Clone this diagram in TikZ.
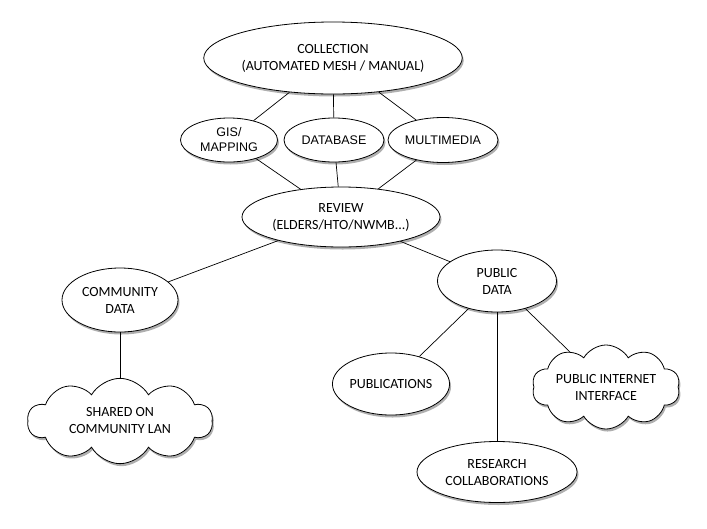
\documentclass[tikz,border=0pt]{standalone}
\usepackage{fontspec}
\setmainfont{Carlito}
\newfontfamily\arialfont{Liberation Sans}
\usetikzlibrary{shapes.geometric,shapes.symbols,shadows}
\definecolor{shadowgray}{HTML}{7A7A7A}

\begin{document}
\begin{tikzpicture}[x=1pt, y=-1pt,
  font=\fontsize{14}{17}\selectfont,
  every node/.style={align=center, inner sep=0pt, fill=white, draw=black, line width=0.8pt,
    drop shadow={shadow xshift=1.5pt, shadow yshift=-2.5pt, fill=shadowgray, opacity=0.6}},
  bubble/.style={ellipse},
  midbubble/.style={ellipse, font=\arialfont\fontsize{12.5}{15}\selectfont},
  puff/.style={cloud, cloud puffs=10, cloud puff arc=120, aspect=2.3},
  link/.style={line width=0.7pt}]
  \useasboundingbox (0,0) rectangle (707,528);
  \node[bubble, minimum width=253pt, minimum height=72pt] (collection) at (333,58) {COLLECTION\\(AUTOMATED MESH / MANUAL)};
  \node[midbubble, minimum width=97pt, minimum height=44pt] (gis) at (229,140) {GIS/\\MAPPING};
  \node[midbubble, minimum width=100pt, minimum height=44pt] (database) at (334,140) {DATABASE};
  \node[midbubble, minimum width=110pt, minimum height=45pt] (multimedia) at (443,140) {MULTIMEDIA};
  \node[bubble, minimum width=198pt, minimum height=60pt] (review) at (341,217) {REVIEW\\(ELDERS/HTO/NWMB...)};
  \node[bubble, minimum width=116pt, minimum height=64pt] (community) at (120,300) {COMMUNITY\\DATA};
  \node[puff, minimum width=185pt, minimum height=83pt] (lan) at (120,421) {SHARED ON\\COMMUNITY LAN};
  \node[bubble, minimum width=119pt, minimum height=62pt] (public) at (497,281) {PUBLIC\\DATA};
  \node[bubble, minimum width=117pt, minimum height=62pt] (publications) at (391,384) {PUBLICATIONS};
  \node[puff, minimum width=148pt, minimum height=65pt] (internet) at (606,387) {PUBLIC INTERNET\\INTERFACE};
  \node[bubble, minimum width=160pt, minimum height=61pt] (research) at (497,472) {RESEARCH\\COLLABORATIONS};
  \draw[link] (collection) -- (gis);
  \draw[link] (collection) -- (database);
  \draw[link] (collection) -- (multimedia);
  \draw[link] (gis) -- (review);
  \draw[link] (database) -- (review);
  \draw[link] (multimedia) -- (review);
  \draw[link] (review) -- (community);
  \draw[link] (review) -- (public);
  \draw[link] (community) -- (lan);
  \draw[link] (public) -- (publications);
  \draw[link] (public) -- (research);
  \draw[link] (public) -- (internet);
\end{tikzpicture}
\end{document}
